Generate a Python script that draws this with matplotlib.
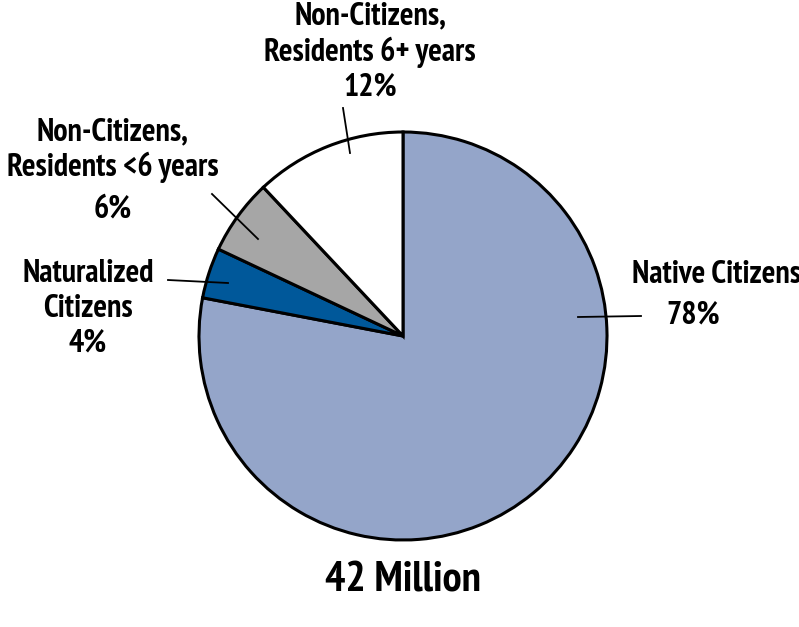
import matplotlib
matplotlib.use("Agg")
import matplotlib.pyplot as plt
from matplotlib import font_manager as fm

# pick a bold condensed face if one is present
available = {(f.name, f.weight) for f in fm.fontManager.ttflist}
family = 'DejaVu Sans'
for cand in ['PT Sans Narrow', 'Liberation Sans Narrow', 'Arimo Narrow',
             'Archivo Narrow', 'Roboto Condensed', 'Fjalla One']:
    if any(n == cand and (w in (700, 'bold') or cand == 'Fjalla One') for n, w in available):
        family = cand
        break
plt.rcParams['font.family'] = [family, 'DejaVu Sans']
plt.rcParams['font.weight'] = 'bold'

# Data
categories = ['Native Citizens', 'Naturalized Citizens',
              'Non-Citizens, Residents <6 years', 'Non-Citizens, Residents 6+ years']
shares = [78, 4, 6, 12]
colors = ['#94A5C9', '#00589A', '#A6A6A6', '#FFFFFF']
total_label = '42 Million'

W, H = 799, 627

fig = plt.figure(figsize=(W / 100, H / 100), dpi=100)
ax = fig.add_axes([0, 0, 1, 1])


def py(y):
    # pixel row -> data y
    return H - y


ax.pie(shares, colors=colors, startangle=90, counterclock=False,
       center=(403, py(336)), radius=204, frame=True,
       wedgeprops=dict(edgecolor='black', linewidth=2.2))
ax.set_xlim(0, W)
ax.set_ylim(0, H)
ax.set_aspect('equal')
ax.axis('off')

# size the fonts so the widths roughly match the original
renderer = fig.canvas.get_renderer()
probe = ax.text(0, 0, 'Residents <6 years', fontsize=20)
fs = 20 * 212 / probe.get_window_extent(renderer).width
probe.remove()
probe = ax.text(0, 0, total_label, fontsize=30)
fs_big = 30 * 156 / probe.get_window_extent(renderer).width
probe.remove()

# labels
ax.text(370, py(52), 'Non-Citizens,\nResidents 6+ years\n12%', ha='center', va='center',
        fontsize=fs, linespacing=1.2)
ax.text(113, py(150), 'Non-Citizens,\nResidents <6 years', ha='center', va='center',
        fontsize=fs, linespacing=1.2)
ax.text(113, py(209), '6%', ha='center', va='center', fontsize=fs)
ax.text(88, py(309), 'Naturalized\nCitizens\n4%', ha='center', va='center',
        fontsize=fs, linespacing=1.2)
ax.text(716, py(275), 'Native Citizens', ha='center', va='center', fontsize=fs)
ax.text(693, py(315), '78%', ha='center', va='center', fontsize=fs)

# leader lines
leaders = [((343, 108), (350, 153)),
           ((212, 194), (258, 239)),
           ((168, 280), (228, 283)),
           ((578, 317), (641, 316))]
for (x0, y0), (x1, y1) in leaders:
    ax.plot([x0, x1], [py(y0), py(y1)], color='black', lw=1.3)

ax.text(403, py(581), total_label, ha='center', va='center', fontsize=fs_big)

fig.savefig('out.png', dpi=100, facecolor='white')
